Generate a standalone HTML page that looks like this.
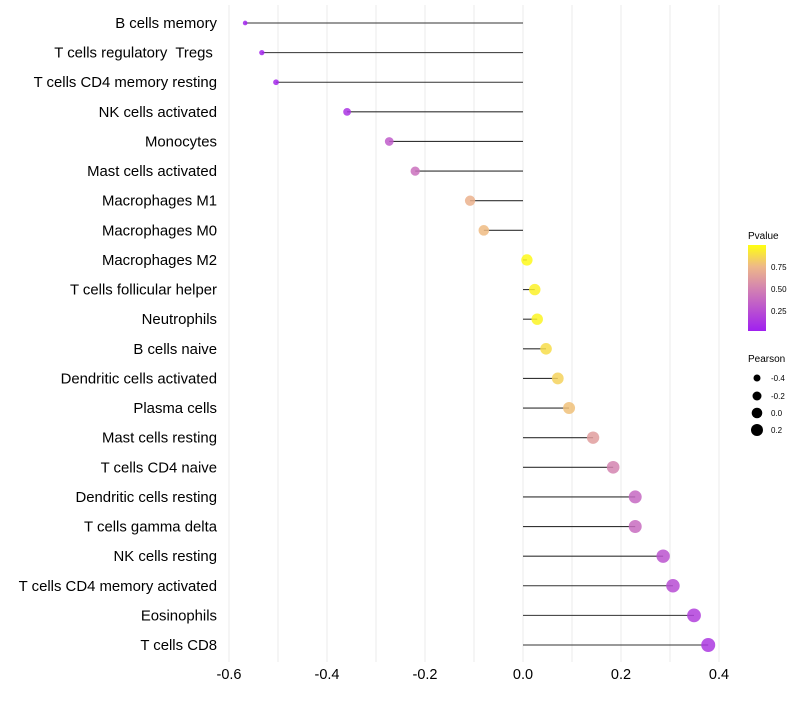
<!DOCTYPE html>
<html><head><meta charset="utf-8"><style>
body{margin:0;background:#fff;font-family:"Liberation Sans",sans-serif}
svg text{font-family:"Liberation Sans",sans-serif;white-space:pre}
</style></head><body>
<svg id="chart" width="800" height="700" xmlns="http://www.w3.org/2000/svg">
<defs><linearGradient id="pg" x1="0" y1="1" x2="0" y2="0">
<stop offset="0" stop-color="#a020f0"/><stop offset="0.5" stop-color="#d484b0"/><stop offset="0.75" stop-color="#eeb888"/><stop offset="1" stop-color="#ffff10"/>
</linearGradient></defs>
<g id="grid"></g>
<g id="marks"></g>
<g id="axes"></g>
<g>
<text x="748" y="239" font-size="10">Pvalue</text>
<rect x="748" y="245" width="18" height="86" fill="url(#pg)"/>
<text x="771" y="270" font-size="8">0.75</text>
<text x="771" y="292" font-size="8">0.50</text>
<text x="771" y="314" font-size="8">0.25</text>
</g>
<g>
<text x="748" y="362" font-size="10">Pearson</text>
<circle cx="757" cy="378" r="3.5" fill="#000"/><text x="771" y="381" font-size="8">-0.4</text>
<circle cx="757" cy="396" r="4.5" fill="#000"/><text x="771" y="399" font-size="8">-0.2</text>
<circle cx="757" cy="413" r="5.3" fill="#000"/><text x="771" y="416" font-size="8">0.0</text>
<circle cx="757" cy="430" r="6" fill="#000"/><text x="771" y="433" font-size="8">0.2</text>
</g>
</svg>
<script>
const categories=["B cells memory","T cells regulatory  Tregs ","T cells CD4 memory resting","NK cells activated","Monocytes","Mast cells activated","Macrophages M1","Macrophages M0","Macrophages M2","T cells follicular helper","Neutrophils","B cells naive","Dendritic cells activated","Plasma cells","Mast cells resting","T cells CD4 naive","Dendritic cells resting","T cells gamma delta","NK cells resting","T cells CD4 memory activated","Eosinophils","T cells CD8"];
const pearson=[-0.567,-0.533,-0.504,-0.359,-0.273,-0.220,-0.108,-0.080,0.008,0.024,0.029,0.047,0.071,0.094,0.143,0.184,0.229,0.229,0.286,0.306,0.349,0.378];
const pvalues=[0.02,0.03,0.04,0.1,0.3,0.4,0.72,0.76,0.98,0.95,0.96,0.88,0.84,0.78,0.62,0.5,0.36,0.38,0.26,0.22,0.16,0.12];
const xTicks=[-0.6,-0.4,-0.2,0.0,0.2,0.4];
const NS="http://www.w3.org/2000/svg";
const x=v=>523+v*490;
const y=i=>23+i*(645-23)/(categories.length-1);
const rad=v=>Math.sqrt(5.5+(v+0.567)*46);
function hex(h){return [1,3,5].map(k=>parseInt(h.substr(k,2),16));}
const stops=[[0,hex("#a020f0")],[0.5,hex("#d484b0")],[0.75,hex("#eeb888")],[1,hex("#ffff10")]];
function col(p){for(let k=1;k<stops.length;k++){if(p<=stops[k][0]){const a=stops[k-1],b=stops[k],t=(p-a[0])/(b[0]-a[0]);return "rgb("+a[1].map((c,j)=>Math.round(c+(b[1][j]-c)*t)).join(",")+")";}}return "rgb(255,255,16)";}
function mk(tag,attrs,parent){const e=document.createElementNS(NS,tag);for(const k in attrs)e.setAttribute(k,attrs[k]);parent.appendChild(e);return e;}
const grid=document.getElementById('grid'),marks=document.getElementById('marks'),axes=document.getElementById('axes');
for(let v=-0.6;v<=0.451;v+=0.1){const g=mk('line',{x1:x(v),x2:x(v),y1:5,y2:662,stroke:'#ebebeb','stroke-width':1},grid);

}
xTicks.forEach(v=>{const t=mk('text',{x:x(v),y:679,'font-size':14.5,'text-anchor':'middle',fill:'#000'},axes);t.textContent=v.toFixed(1);

});
categories.forEach((c,i)=>{
const t=mk('text',{x:217,y:y(i)+5,'font-size':14.9,'text-anchor':'end',fill:'#000'},axes);t.textContent=c;


const l=mk('line',{x1:x(0),x2:x(pearson[i]),y1:y(i),y2:y(i),stroke:'#333','stroke-width':1.1},marks);


const p=mk('circle',{cx:x(pearson[i]),cy:y(i),r:rad(pearson[i]),fill:col(pvalues[i]),'fill-opacity':0.85},marks);


});
</script>
</body></html>
